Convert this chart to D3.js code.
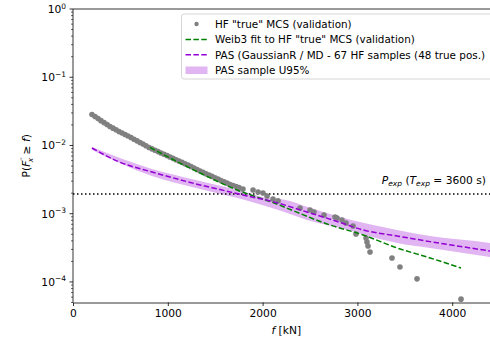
<!DOCTYPE html>
<html>
<head>
<meta charset="utf-8">
<script src="https://cdn.jsdelivr.net/npm/d3@7"></script>
<style>
  body { margin: 0; background: #fff; }
  svg { font-family: "DejaVu Sans", sans-serif; }
</style>
</head>
<body>
<div id="chart"></div>
<script>
// HF "true" MCS points (force in kN, exceedance prob.)
var hfF = [200,232,264,295,327,359,390,422,454,485,517,549,580,612,643,675,707,738,770,802,
  833,865,897,928,960,992,1023,1055,1087,1118,1150,1182,1213,1245,1276,1308,1340,1371,1403,1435,
  1466,1498,1530,1561,1593,1625,1656,1688,1720,1751,1793,
  1899,1952,2004,2047,2110,2163,2395,2500,2542,2648,2764,2785,2838,2880,2954,2985,
  3091,3101,3112,3133,3365,3449,3629,4093];
var hfP = [0.02845,0.02655,0.02475,0.02312,0.02165,0.02028,0.01898,0.01795,0.01698,0.01606,
  0.01525,0.01449,0.01378,0.01308,0.01237,0.0117,0.01107,0.01047,0.0099,0.00936,
  0.00892,0.00852,0.00814,0.00777,0.00743,0.0071,0.00679,0.00648,0.00619,0.00592,
  0.00565,0.0054,0.00516,0.00493,0.00468,0.00445,0.00423,0.00404,0.00386,0.00369,
  0.00353,0.00337,0.00322,0.00307,0.00294,0.00281,0.00268,0.00259,0.0025,0.00241,0.0023,
  2.23e-3,2.08e-3,2.01e-3,1.82e-3,1.64e-3,1.54e-3,1.21e-3,1.135e-3,1.06e-3,9.59e-4,8.96e-4,8.67e-4,8.1e-4,7.32e-4,6.62e-4,5.05e-4,
  4.41e-4,3.86e-4,3.37e-4,2.75e-4,2.25e-4,1.66e-4,1.11e-4,5.6e-5];

// Weib3 fit
var weibF = [812,1023,1340,1730,2078,2711,3059,3418,3766,4093];
var weibP = [9.35e-3,6.56e-3,3.95e-3,2.23e-3,1.51e-3,6.84e-4,4.89e-4,3.15e-4,2.25e-4,1.60e-4];

// PAS estimate
var pasF = [200,475,833,1023,1340,1551,1814,2078,2468,2817,3059,3418,3766,4400,4500];
var pasP = [9.19e-3,5.83e-3,4.09e-3,3.45e-3,2.64e-3,2.26e-3,1.85e-3,1.54e-3,1.06e-3,7.45e-4,5.78e-4,4.72e-4,3.9e-4,2.84e-4,2.7e-4];

// PAS U95% band
var bandF = [200,833,1340,1814,1994,2289,2468,2817,3418,3766,4400,4500];
var bandHi = [9.51e-3,4.53e-3,3.02e-3,2.08e-3,1.76e-3,1.54e-3,1.26e-3,8.96e-4,5.78e-4,4.72e-4,3.73e-4,3.55e-4];
var bandLo = [8.59e-3,3.57e-3,2.31e-3,1.59e-3,1.34e-3,9.91e-4,8.1e-4,6.18e-4,3.73e-4,3.15e-4,2.32e-4,2.2e-4];

var pExp = 1.94e-3;

var xTicks = [0,1000,2000,3000,4000];
var yExps = [0,-1,-2,-3,-4];

var legendLabels = ['HF "true" MCS (validation)',
  'Weib3 fit to HF "true" MCS (validation)',
  'PAS (GaussianR / MD - 67 HF samples (48 true pos.)',
  'PAS sample U95%'];

var width = 490, height = 342;
var margin = ({top: 9, right: -9.6, bottom: 39.5, left: 73});
var fs = 10.7;
var lfs = 10.4;

var x = d3.scaleLinear()
  .domain([0, 4500])
  .range([margin.left, width - margin.right]);

var y = d3.scaleLog()
  .domain([5e-5, 1])
  .range([height - margin.bottom, margin.top]);

var svg = d3.select('#chart').append('svg')
  .attr('width', width)
  .attr('height', height);

svg.append('clipPath').attr('id', 'clip')
  .append('rect')
  .attr('x', x(0)).attr('y', y(1))
  .attr('width', x(4500) - x(0)).attr('height', y(5e-5) - y(1));

var plot = svg.append('g').attr('clip-path', 'url(#clip)');

// band
var band = bandF.map((f, i) => ({f: f, hi: bandHi[i], lo: bandLo[i]}));
plot.append('path')
  .datum(band)
  .attr('fill', 'darkviolet')
  .attr('fill-opacity', 0.29)
  .attr('d', d3.area()
    .x(d => x(d.f))
    .y0(d => y(d.lo))
    .y1(d => y(d.hi))
    .curve(d3.curveMonotoneX));

// exposure line
plot.append('line')
  .attr('x1', x(0)).attr('x2', x(4500))
  .attr('y1', y(pExp)).attr('y2', y(pExp))
  .attr('stroke', 'black')
  .attr('stroke-width', 1.5)
  .attr('stroke-dasharray', '1.5,2.5');

// HF points
plot.selectAll('circle.hf')
  .data(hfF.map((f, i) => ({f: f, p: hfP[i]})))
  .join('circle')
  .attr('class', 'hf')
  .attr('cx', d => x(d.f))
  .attr('cy', d => y(d.p))
  .attr('r', 2.8)
  .attr('fill', 'gray');

var line = d3.line()
  .x(d => x(d[0]))
  .y(d => y(d[1]))
  .curve(d3.curveMonotoneX);

plot.append('path')
  .datum(weibF.map((f, i) => [f, weibP[i]]))
  .attr('fill', 'none')
  .attr('stroke', 'green')
  .attr('stroke-width', 1.5)
  .attr('stroke-dasharray', '5.5,2.4')
  .attr('d', line);

plot.append('path')
  .datum(pasF.map((f, i) => [f, pasP[i]]))
  .attr('fill', 'none')
  .attr('stroke', 'darkviolet')
  .attr('stroke-width', 1.5)
  .attr('stroke-dasharray', '5.5,2.4')
  .attr('d', line);

// axes
var xAxis = svg.append('g')
  .attr('transform', `translate(0, ${y(5e-5)})`)
  .call(d3.axisBottom(x).tickValues(xTicks).tickFormat(d3.format('d'))
    .tickSizeInner(3.5).tickSizeOuter(0).tickPadding(3.5));
xAxis.select('.domain').attr('stroke-width', 0.8);
xAxis.selectAll('.tick line').attr('stroke-width', 0.8);
xAxis.selectAll('.tick text')
  .attr('font-size', fs).attr('font-family', 'DejaVu Sans').attr('fill', '#000');

var yAxis = svg.append('g')
  .attr('transform', `translate(${x(0)}, 0)`);
yAxis.append('line')
  .attr('y1', y(1)).attr('y2', y(5e-5))
  .attr('stroke', 'black').attr('stroke-width', 0.8);

var minor = [];
for (var e = -5; e < 0; e++) {
  for (var m = 2; m <= 9; m++) {
    var v = m * Math.pow(10, e);
    if (v >= 5e-5 && v <= 1) minor.push(v);
  }
}
yAxis.selectAll('line.minor')
  .data(minor)
  .join('line')
  .attr('class', 'minor')
  .attr('x1', -2).attr('x2', 0)
  .attr('y1', d => y(d)).attr('y2', d => y(d))
  .attr('stroke', 'black').attr('stroke-width', 0.6);

yAxis.selectAll('line.major')
  .data(yExps)
  .join('line')
  .attr('class', 'major')
  .attr('x1', -3.5).attr('x2', 0)
  .attr('y1', d => y(Math.pow(10, d))).attr('y2', d => y(Math.pow(10, d)))
  .attr('stroke', 'black').attr('stroke-width', 0.8);

var yLab = yAxis.selectAll('text.ylab')
  .data(yExps)
  .join('text')
  .attr('class', 'ylab')
  .attr('x', -7)
  .attr('y', d => y(Math.pow(10, d)) + 4)
  .attr('text-anchor', 'end')
  .attr('font-size', fs);
yLab.append('tspan').text('10');
yLab.append('tspan')
  .attr('dy', -4.5)
  .attr('font-size', fs * 0.7)
  .text(d => d === 0 ? '0' : '\u2212' + (-d));

// top spine
svg.append('line')
  .attr('x1', x(0)).attr('x2', x(4500))
  .attr('y1', y(1)).attr('y2', y(1))
  .attr('stroke', 'black').attr('stroke-width', 0.8);

// axis labels
var xl = svg.append('text')
  .attr('x', (x(0) + x(4500)) / 2)
  .attr('y', 334)
  .attr('text-anchor', 'middle')
  .attr('font-size', fs);
xl.append('tspan').attr('font-style', 'italic').text('f');
xl.append('tspan').text(' [kN]');

var yl = svg.append('text')
  .attr('transform', `translate(30, ${(y(1) + y(5e-5)) / 2}) rotate(-90)`)
  .attr('text-anchor', 'middle')
  .attr('font-size', fs);
yl.append('tspan').text('P(');
yl.append('tspan').attr('font-style', 'italic').text('F');
yl.append('tspan').attr('font-size', fs * 0.7).attr('dy', -4).text('\u2032\u2032');
yl.append('tspan').attr('font-size', fs * 0.7).attr('font-style', 'italic').attr('dx', -5).attr('dy', 6.5).text('x');
yl.append('tspan').attr('dy', -2.5).text(' \u2265 ');
yl.append('tspan').attr('font-style', 'italic').text('f');
yl.append('tspan').text(')');

// P_exp label
var pl = svg.append('text')
  .attr('x', 486)
  .attr('y', y(pExp) - 10.5)
  .attr('text-anchor', 'end')
  .attr('font-size', fs);
pl.append('tspan').attr('font-style', 'italic').text('P');
pl.append('tspan').attr('font-style', 'italic').attr('font-size', fs * 0.7).attr('dy', 2.5).text('exp');
pl.append('tspan').attr('dy', -2.5).text(' (');
pl.append('tspan').attr('font-style', 'italic').text('T');
pl.append('tspan').attr('font-style', 'italic').attr('font-size', fs * 0.7).attr('dy', 2.5).text('exp');
pl.append('tspan').attr('dy', -2.5).text(' = 3600 s)');

// legend
var lg = svg.append('g').attr('transform', 'translate(181.5, 14)');
lg.append('rect')
  .attr('width', 330).attr('height', 65)
  .attr('rx', 2.5)
  .attr('fill', 'white').attr('fill-opacity', 0.8)
  .attr('stroke', '#cccccc').attr('stroke-width', 0.8);

var rows = lg.selectAll('g.row')
  .data(legendLabels)
  .join('g')
  .attr('class', 'row')
  .attr('transform', (d, i) => `translate(0, ${10 + i * 15.4})`);

rows.append('text')
  .attr('x', 33.5)
  .attr('y', 4)
  .attr('font-size', lfs)
  .text(d => d);

lg.append('circle').attr('cx', 15).attr('cy', 10).attr('r', 2.2).attr('fill', 'gray');
lg.append('line').attr('x1', 4).attr('x2', 26).attr('y1', 25.4).attr('y2', 25.4)
  .attr('stroke', 'green').attr('stroke-width', 1.5).attr('stroke-dasharray', '5.5,2.4');
lg.append('line').attr('x1', 4).attr('x2', 26).attr('y1', 40.8).attr('y2', 40.8)
  .attr('stroke', 'darkviolet').attr('stroke-width', 1.5).attr('stroke-dasharray', '5.5,2.4');
lg.append('rect').attr('x', 4).attr('y', 52.5).attr('width', 22).attr('height', 7.5)
  .attr('fill', 'darkviolet').attr('fill-opacity', 0.29);
</script>
</body>
</html>
